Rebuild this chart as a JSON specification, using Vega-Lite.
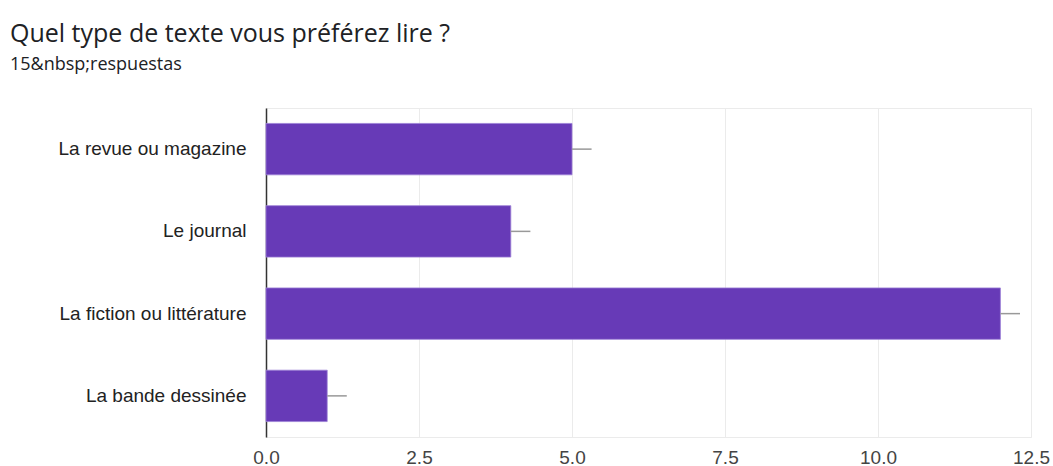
{
  "$schema": "https://vega.github.io/schema/vega-lite/v6.json",
  "autosize": "none",
  "width": 765,
  "height": 329,
  "padding": {"left": 266, "top": 108, "right": 22, "bottom": 29},
  "background": "white",
  "title": {
    "text": "Quel type de texte vous préférez lire ?",
    "subtitle": "15&nbsp;respuestas",
    "anchor": "start",
    "frame": "group",
    "dx": -256,
    "offset": 34,
    "font": "Open Sans",
    "fontSize": 25,
    "fontWeight": "normal",
    "color": "#202124",
    "subtitleFont": "Open Sans",
    "subtitleFontSize": 18,
    "subtitleColor": "#202124",
    "subtitlePadding": 9
  },
  "data": {
    "values": [
      {"type": "La revue ou magazine", "count": 5, "err": 5.32},
      {"type": "Le journal", "count": 4, "err": 4.32},
      {"type": "La fiction ou littérature", "count": 12, "err": 12.32},
      {"type": "La bande dessinée", "count": 1, "err": 1.32}
    ]
  },
  "encoding": {
    "y": {
      "field": "type",
      "type": "nominal",
      "sort": null,
      "title": null,
      "scale": {"paddingInner": 0.375, "paddingOuter": 0.1875},
      "axis": {
        "labelFont": "Liberation Sans",
        "labelFontSize": 19,
        "labelColor": "#222222",
        "labelPadding": 20,
        "labelLimit": 400,
        "ticks": false,
        "domainColor": "#333333",
        "domainWidth": 1.5,
        "grid": false
      }
    }
  },
  "layer": [
    {
      "mark": {"type": "bar", "color": "#673ab7", "stroke": "#9c7fd6", "strokeWidth": 0.8},
      "encoding": {
        "x": {
          "field": "count",
          "type": "quantitative",
          "scale": {"domain": [0, 12.5], "nice": false},
          "title": null,
          "axis": {
            "values": [0, 2.5, 5, 7.5, 10, 12.5],
            "format": ".1f",
            "labelFont": "Liberation Sans",
            "labelFontSize": 19,
            "labelColor": "#444444",
            "labelPadding": 11,
            "labelFlush": false,
            "labelOverlap": false,
            "ticks": false,
            "domain": false,
            "gridColor": "#ebebeb",
            "gridWidth": 1
          }
        }
      }
    },
    {
      "mark": {"type": "rule", "color": "#999999", "strokeWidth": 1.5},
      "encoding": {
        "x": {"field": "count", "type": "quantitative"},
        "x2": {"field": "err"}
      }
    }
  ],
  "config": {
    "view": {"stroke": "#ebebeb", "strokeWidth": 1}
  }
}
